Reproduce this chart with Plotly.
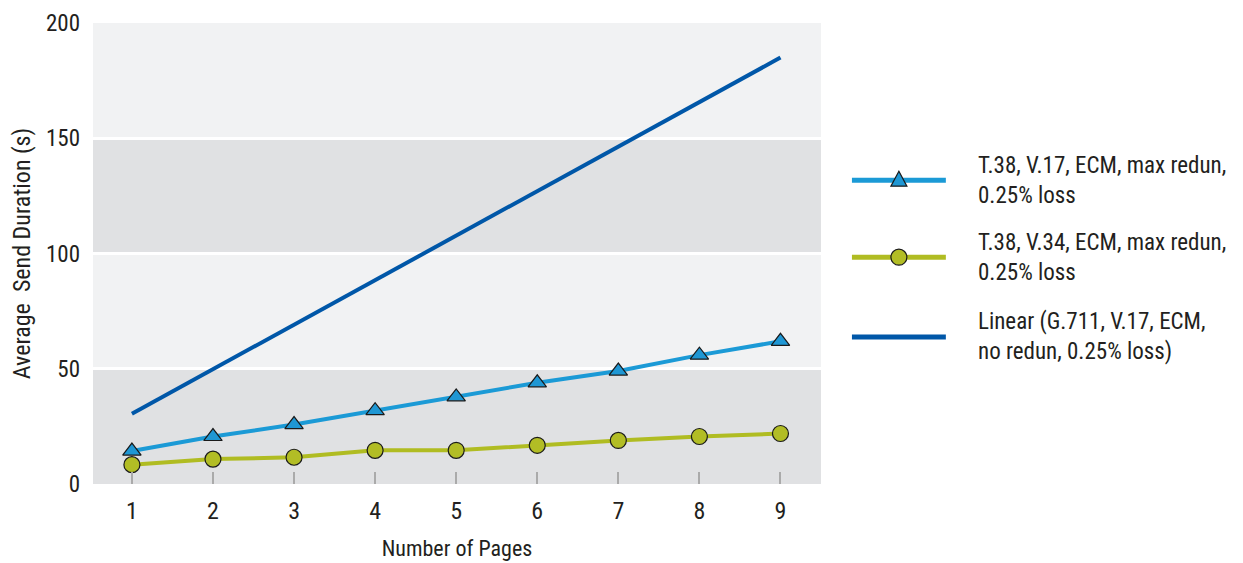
import plotly.graph_objects as go

pages = [1, 2, 3, 4, 5, 6, 7, 8, 9]
v17_max_redun = [14.3, 20.6, 25.8, 31.8, 37.8, 43.9, 49.0, 55.9, 61.9]
v34_max_redun = [8.4, 10.8, 11.6, 14.6, 14.6, 16.8, 18.9, 20.6, 21.9]
linear_g711 = [30.5, 49.8, 69.1, 88.4, 107.8, 127.1, 146.4, 165.7, 185.0]

names = [
    "T.38, V.17, ECM, max redun,<br>0.25% loss",
    "T.38, V.34, ECM, max redun,<br>0.25% loss",
    "Linear (G.711, V.17, ECM,<br>no redun, 0.25% loss)",
]
colors = ["#1b9ad6", "#b0bc22", "#0057a8"]
marker_fill = ["#1f97d4", "#b2bd25", None]

FONT = "Liberation Sans Narrow, Roboto Condensed, DejaVu Sans Condensed, Arial Narrow, sans-serif"
TXT = "#231f20"

fig = go.Figure()
fig.add_trace(go.Scatter(
    x=pages, y=v17_max_redun, name=names[0], mode="lines+markers", showlegend=False,
    line=dict(color=colors[0], width=4),
    marker=dict(symbol="triangle-up", size=16, color=marker_fill[0],
                line=dict(color="#1a1a1a", width=1.2)),
))
fig.add_trace(go.Scatter(
    x=pages, y=v34_max_redun, name=names[1], mode="lines+markers", showlegend=False,
    line=dict(color=colors[1], width=4),
    marker=dict(symbol="circle", size=16, color=marker_fill[1],
                line=dict(color="#1a1a1a", width=1.2)),
))
fig.add_trace(go.Scatter(
    x=pages, y=linear_g711, name=names[2], mode="lines", showlegend=False,
    line=dict(color=colors[2], width=4),
))

# background bands
bands = [(0, 50, "#e0e1e3"), (50, 100, "#f1f2f3"), (100, 150, "#e0e1e3"), (150, 200, "#f1f2f3")]
for y0, y1, c in bands:
    fig.add_shape(type="rect", xref="paper", yref="y", x0=0, x1=1, y0=y0, y1=y1,
                  fillcolor=c, line=dict(width=0), layer="below")

# custom legend (paper coordinates)
leg_y = [0.659, 0.492, 0.319]
lx0, lx1, lxm, tx = 1.0425, 1.1715, 1.107, 1.2126
for i in range(3):
    fig.add_shape(type="line", xref="paper", yref="paper", x0=lx0, x1=lx1, y0=leg_y[i], y1=leg_y[i],
                  line=dict(color=colors[i], width=5))
    fig.add_annotation(xref="paper", yref="paper", x=tx, y=leg_y[i], text=names[i],
                       showarrow=False, xanchor="left", yanchor="middle", align="left",
                       font=dict(size=23, family=FONT, color=TXT))
# triangle legend marker
fig.add_shape(type="path", xref="paper", yref="paper", xsizemode="pixel", ysizemode="pixel",
              xanchor=lxm, yanchor=leg_y[0], path="M -8,-6 L 8,-6 L 0,9 Z",
              fillcolor=marker_fill[0], line=dict(color="#1a1a1a", width=1.2))
# circle legend marker
fig.add_shape(type="circle", xref="paper", yref="paper", xsizemode="pixel", ysizemode="pixel",
              xanchor=lxm, yanchor=leg_y[1], x0=-8, x1=8, y0=-8, y1=8,
              fillcolor=marker_fill[1], line=dict(color="#1a1a1a", width=1.2))

fig.update_layout(
    width=1243, height=563,
    margin=dict(l=85, r=430, t=15, b=87),
    paper_bgcolor="white", plot_bgcolor="#f1f2f3",
    font=dict(family=FONT, color=TXT, size=20),
    showlegend=False,
)
fig.update_xaxes(
    range=[0.52, 9.5], tickvals=pages, ticktext=[str(p) for p in pages],
    showgrid=False, zeroline=False, showline=False, automargin=False,
    ticks="inside", ticklen=12, tickwidth=2, tickcolor="#aaaaaa",
    ticklabelstandoff=10,
    tickfont=dict(size=24, family=FONT, color=TXT),
    title=dict(text="Number of Pages", font=dict(size=22, family=FONT, color=TXT), standoff=16),
)
fig.update_yaxes(
    range=[0, 200], tickvals=[0, 50, 100, 150, 200],
    showgrid=True, gridcolor="white", gridwidth=3, zeroline=False, showline=False,
    automargin=False,
    ticks="", ticklabelstandoff=12, ticklabeloverflow="allow",
    tickfont=dict(size=23, family=FONT, color=TXT),
    title=dict(text="Average  Send Duration (s)", font=dict(size=24, family=FONT, color=TXT), standoff=14),
)

fig.write_html("out.html")
